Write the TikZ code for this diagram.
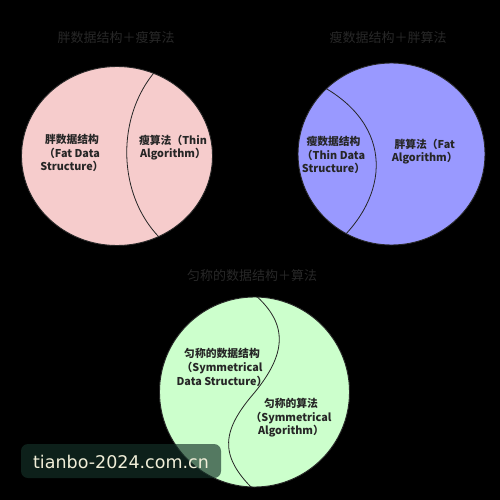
\documentclass[tikz,border=0pt]{standalone}
\usepackage{fontspec}
\newfontfamily\cjk{Noto Sans CJK SC}
\newfontfamily\wm{DejaVu Sans}
\definecolor{pinkfill}{RGB}{246,204,204}
\definecolor{bluefill}{RGB}{153,153,255}
\definecolor{greenfill}{RGB}{204,255,204}
\definecolor{titlecol}{RGB}{40,40,40}
\definecolor{wmbox}{RGB}{20,50,40}
\definecolor{wmtext}{RGB}{240,238,216}
\begin{document}
\begin{tikzpicture}[x=1pt,y=-1pt,
  lbl/.style={font=\cjk\bfseries\fontsize{10.8}{13.6}\selectfont,align=center,text=black!85,inner sep=0pt},
  ttl/.style={font=\cjk\fontsize{13}{15}\selectfont,text=titlecol,inner sep=0pt},
  ring/.style={draw=black!85,line width=0.9pt},
  split/.style={draw=black!85,line width=0.8pt}]
\fill[black] (0,0) rectangle (500,500);
\useasboundingbox (0,0) rectangle (500,500);

% titles
\node[ttl] (t1) at (116,38) {胖数据结构＋瘦算法};
\node[ttl] (t2) at (388,38) {瘦数据结构＋胖算法};
\node[ttl] (t3) at (252,276) {匀称的数据结构＋算法};

% circle 1
\fill[pinkfill] (117,156) ellipse [x radius=95.5, y radius=89.5];
\begin{scope}
  \clip (117,156) ellipse [x radius=95.5, y radius=89.5];
  \draw[split] (162,64) .. controls (115,110) and (115,195) .. (162,240);
\end{scope}
\draw[ring] (117,156) ellipse [x radius=95.5, y radius=89.5];
\node[lbl] (c1l) at (72,153) {胖数据结构\\（Fat Data\\Structure）};
\node[lbl] (c1r) at (173,147.5) {瘦算法（Thin\\Algorithm）};

% circle 2
\fill[bluefill] (391.5,154) ellipse [x radius=93.5, y radius=91];
\begin{scope}
  \clip (391.5,154) ellipse [x radius=93.5, y radius=91];
  \draw[split] (314,82) .. controls (392,120) and (392,190) .. (340,240);
\end{scope}
\draw[ring] (391.5,154) ellipse [x radius=93.5, y radius=91];
\node[lbl] (c2l) at (333.5,155) {瘦数据结构\\（Thin Data\\Structure）};
\node[lbl] (c2r) at (424.7,151.7) {胖算法（Fat\\Algorithm）};

% circle 3
\fill[greenfill] (254.5,392) circle [radius=95];
\begin{scope}
  \clip (254.5,392) circle [radius=95];
  \draw[split] (254,294) .. controls (290,325) and (285,355) .. (255,392)
     .. controls (222,430) and (218,455) .. (254,490);
\end{scope}
\draw[ring] (254.5,392) circle [radius=95];
\node[lbl] (c3l) at (222,367.5) {匀称的数据结构\\（Symmetrical\\Data Structure）};
\node[lbl] (c3r) at (291,418) {匀称的算法\\（Symmetrical\\Algorithm）};

% watermark
\fill[wmbox,opacity=0.65,rounded corners=7pt] (21,444) rectangle (221,478);
\node[font=\wm\fontsize{17.5}{20}\selectfont,text=wmtext,inner sep=0pt] (wm) at (121,462) {tianbo-2024.com.cn};
\end{tikzpicture}
\end{document}
